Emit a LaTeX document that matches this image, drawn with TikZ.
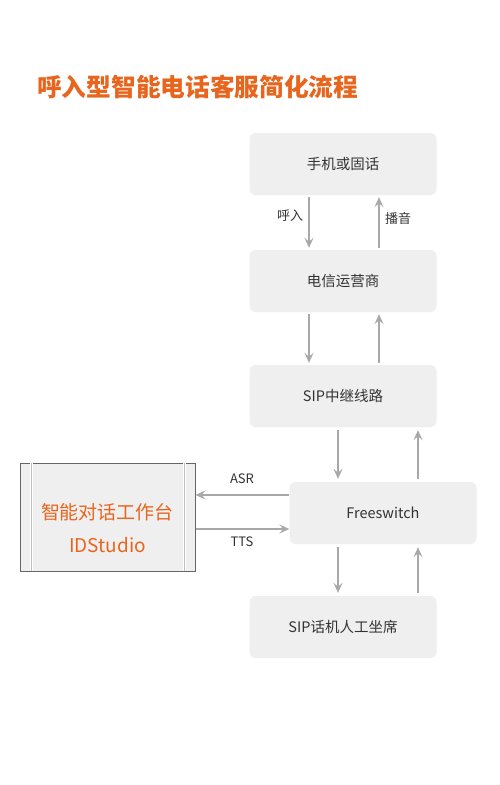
\documentclass[tikz,border=0pt]{standalone}
\usepackage{fontspec}
\setmainfont{Noto Sans CJK SC}
\usetikzlibrary{calc}
\usetikzlibrary{arrows.meta}
\definecolor{boxGray}{HTML}{EFEFEF}
\definecolor{lineGray}{HTML}{A8A8A8}
\definecolor{textDark}{HTML}{333333}
\definecolor{titleOrange}{HTML}{E8651E}
\tikzstyle{flowbox} = [fill=boxGray, rounded corners=6pt, minimum width=187pt, minimum height=62pt, text=textDark, font=\fontsize{14.5}{16}\selectfont]
\tikzstyle{flowline} = [draw=lineGray, line width=1.3pt, -{Stealth[length=10pt, width=9pt, inset=4pt]}]
\tikzstyle{flowlabel} = [text=textDark, font=\fontsize{13}{15}\selectfont, inner sep=0pt]

\begin{document}
\begin{tikzpicture}[x=1pt, y=-1pt]
    \useasboundingbox[fill=white] (0,0) rectangle (500,785);

    \node[text=titleOrange, font=\fontsize{24.7}{28}\selectfont\bfseries, anchor=west, inner sep=0pt] (title) at (37,87) {呼入型智能电话客服简化流程};

    \node[flowbox] (phone) at (343,164) {手机或固话};
    \node[flowbox] (carrier) at ($(phone)+(0,117)$) {电信运营商};
    \node[flowbox] (trunk) at ($(carrier)+(0,115)$) {SIP中继线路};
    \node[flowbox] (fs) at ($(trunk)+(40,117)$) {Freeswitch};
    \node[flowbox] (agent) at ($(fs)+(-40,114)$) {SIP话机人工坐席};

    \node[draw=black!60, line width=1pt, fill=boxGray, minimum width=175pt, minimum height=108pt, inner sep=0pt] (studio) at (107.5,517) {};
    \draw[draw=white, line width=2.5pt] ($(studio.north west)+(12,0.5)$) -- ($(studio.south west)+(12,-0.5)$);
    \draw[draw=black!25, line width=1pt] ($(studio.north west)+(12,0.5)$) -- ($(studio.south west)+(12,-0.5)$);
    \draw[draw=white, line width=2.5pt] ($(studio.north east)+(-11,0.5)$) -- ($(studio.south east)+(-11,-0.5)$);
    \draw[draw=black!25, line width=1pt] ($(studio.north east)+(-11,0.5)$) -- ($(studio.south east)+(-11,-0.5)$);
    \node[text=titleOrange, font=\fontsize{19}{22}\selectfont, inner sep=0pt] (studio_cn) at ($(studio)+(0,-5)$) {智能对话工作台};
    \node[text=titleOrange, font=\fontsize{19}{22}\selectfont, inner sep=0pt] (studio_en) at ($(studio)+(0,28)$) {IDStudio};

    \draw[flowline] ([xshift=-34pt, yshift=-2pt]phone.south) -- ([xshift=-34pt, yshift=2pt]carrier.north);
    \draw[flowline] ([xshift=36pt, yshift=2pt]carrier.north) -- ([xshift=36pt, yshift=-2pt]phone.south);
    \draw[flowline] ([xshift=-34pt, yshift=-2pt]carrier.south) -- ([xshift=-34pt, yshift=2pt]trunk.north);
    \draw[flowline] ([xshift=36pt, yshift=2pt]trunk.north) -- ([xshift=36pt, yshift=-2pt]carrier.south);
    \draw[flowline] ([xshift=-45pt, yshift=-3pt]trunk.south -| fs) -- ([xshift=-45pt, yshift=3pt]fs.north);
    \draw[flowline] ([xshift=35pt, yshift=3pt]fs.north) -- ([xshift=35pt, yshift=-3pt]trunk.south -| fs);
    \draw[flowline] ([xshift=-45pt, yshift=-3pt]fs.south) -- ([xshift=-45pt, yshift=3pt]agent.north -| fs);
    \draw[flowline] ([xshift=35pt, yshift=3pt]agent.north -| fs) -- ([xshift=35pt, yshift=-3pt]fs.south);
    \draw[flowline] ([yshift=18pt]fs.west) -- ([yshift=22pt]studio.east);
    \draw[flowline] ([yshift=-12pt]studio.east) -- ([yshift=-16pt]fs.west);

    \node[flowlabel] (in_label) at (290,216) {呼入};
    \node[flowlabel] (play_label) at (398,219) {播音};
    \node[flowlabel] (asr_label) at (242,479) {ASR};
    \node[flowlabel] (tts_label) at (242,542) {TTS};
\end{tikzpicture}
\end{document}
